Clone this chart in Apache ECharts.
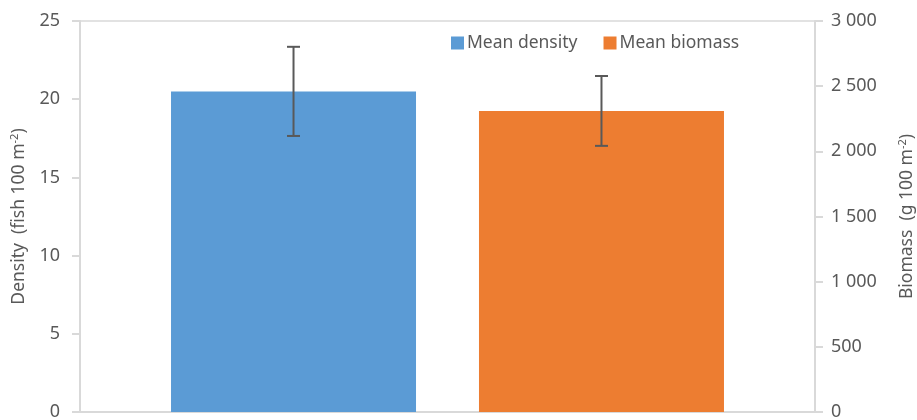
<!DOCTYPE html>
<html><head><meta charset="utf-8">
<script src="https://cdn.jsdelivr.net/npm/echarts@6/dist/echarts.min.js"></script>
<style>html,body{margin:0;padding:0;background:#fff}#c{width:917px;height:420px}</style>
</head><body><div id="c"></div>
<script>
const categories = [''];
const seriesNames = ['Mean density', 'Mean biomass'];
const densityMean = [20.5];
const densityErr = [2.85];
const biomassMean = [2310];
const biomassErr = [268];
const densityTicks = [0, 5, 10, 15, 20, 25];
const biomassTicks = [0, 500, 1000, 1500, 2000, 2500, 3000];

const FONT = 'Noto Sans';
const TXT = '#595959';
const LINE = '#d9d9d9';
const BAR_FRAC = 1 / 3;
const BAR_GAP = 0.257;

function fmtThousands(v) { return String(v).replace(/\B(?=(\d{3})+(?!\d))/g, ' '); }

function errRender(sign) {
  return function (params, api) {
    const cat = api.value(0), m = api.value(1), e = api.value(2);
    const band = api.size([1, 0])[0];
    const bw = band * BAR_FRAC;
    const off = sign * (bw * (1 + BAR_GAP)) / 2;
    const top = api.coord([cat, m + e]);
    const bot = api.coord([cat, m - e]);
    const x = top[0] + off;
    const cap = 6.5;
    const st = { stroke: '#595959', lineWidth: 2 };
    return { type: 'group', children: [
      { type: 'line', shape: { x1: x, y1: top[1], x2: x, y2: bot[1] }, style: st },
      { type: 'line', shape: { x1: x - cap, y1: top[1], x2: x + cap, y2: top[1] }, style: st },
      { type: 'line', shape: { x1: x - cap, y1: bot[1], x2: x + cap, y2: bot[1] }, style: st }
    ]};
  };
}

const supStyle = { sup: { fontSize: 11, verticalAlign: 'top', padding: [0, 0, 9, 0], color: TXT } };

const chart = echarts.init(document.getElementById('c'));
chart.setOption({
  animation: false,
  textStyle: { fontFamily: FONT },
  grid: { left: 80, right: 102, top: 21, bottom: 8, show: true, borderColor: LINE, borderWidth: 1.5,
          containLabel: false, outerBoundsMode: 'none' },
  legend: {
    data: seriesNames, left: 446, top: 29, itemWidth: 13, itemHeight: 13, itemGap: 26,
    icon: 'rect',
    textStyle: { color: TXT, fontSize: 17.5, fontFamily: FONT, padding: [0, 0, 0, -2] }
  },
  xAxis: {
    type: 'category', data: categories,
    axisLine: { lineStyle: { color: LINE, width: 2 } },
    axisTick: { show: false }, axisLabel: { show: false }
  },
  yAxis: [
    {
      type: 'value', min: densityTicks[0], max: densityTicks[densityTicks.length - 1], interval: 5,
      position: 'left',
      name: 'Density  (fish 100 m{sup|-2})', nameLocation: 'middle', nameGap: 48, nameRotate: 90,
      nameTextStyle: { color: TXT, fontSize: 17.5, fontFamily: FONT, rich: supStyle },
      axisLine: { show: true, lineStyle: { color: LINE, width: 2 } },
      axisTick: { show: true, length: 8, lineStyle: { color: LINE, width: 2 } },
      splitLine: { show: false },
      axisLabel: { color: TXT, fontSize: 18, margin: 20, fontFamily: FONT }
    },
    {
      type: 'value', min: biomassTicks[0], max: biomassTicks[biomassTicks.length - 1], interval: 500,
      position: 'right',
      name: 'Biomass  (g 100 m{sup|-2})', nameLocation: 'middle', nameGap: 82, nameRotate: 90,
      nameTextStyle: { color: TXT, fontSize: 17.5, fontFamily: FONT, rich: supStyle },
      axisLine: { show: true, lineStyle: { color: LINE, width: 2 } },
      axisTick: { show: true, length: 8, lineStyle: { color: LINE, width: 2 } },
      splitLine: { show: false },
      axisLabel: { color: TXT, fontSize: 18, margin: 16, fontFamily: FONT, formatter: fmtThousands }
    }
  ],
  series: [
    { name: seriesNames[0], type: 'bar', yAxisIndex: 0, data: densityMean,
      barWidth: (BAR_FRAC * 100) + '%', barGap: (BAR_GAP * 100) + '%', itemStyle: { color: '#5b9bd5' } },
    { name: seriesNames[1], type: 'bar', yAxisIndex: 1, data: biomassMean,
      barWidth: (BAR_FRAC * 100) + '%', barGap: (BAR_GAP * 100) + '%', itemStyle: { color: '#ed7d31' } },
    { type: 'custom', yAxisIndex: 0, renderItem: errRender(-1), z: 10,
      data: densityMean.map((m, i) => [i, m, densityErr[i]]), encode: { x: 0, y: 1 } },
    { type: 'custom', yAxisIndex: 1, renderItem: errRender(1), z: 10,
      data: biomassMean.map((m, i) => [i, m, biomassErr[i]]), encode: { x: 0, y: 1 } }
  ]
});
</script></body></html>
